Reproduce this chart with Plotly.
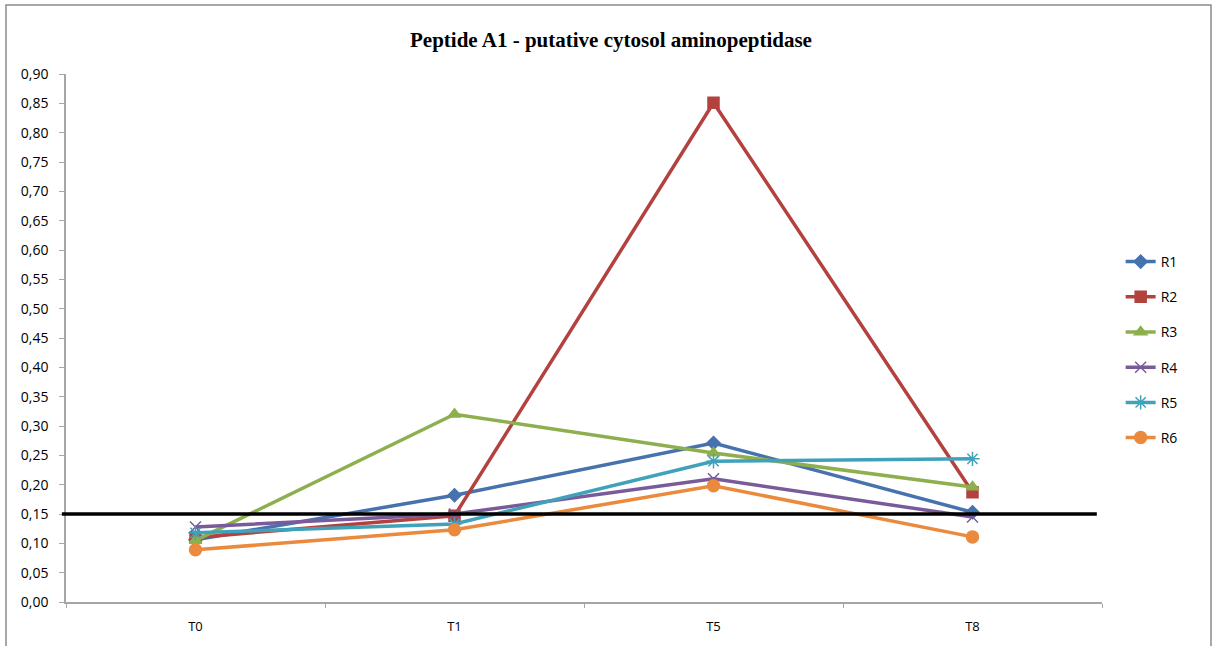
import plotly.graph_objects as go

categories = ["T0", "T1", "T5", "T8"]
R1 = [0.106, 0.182, 0.271, 0.153]
R2 = [0.110, 0.147, 0.851, 0.187]
R3 = [0.105, 0.320, 0.254, 0.196]
R4 = [0.128, 0.150, 0.210, 0.145]
R5 = [0.118, 0.133, 0.240, 0.244]
R6 = [0.089, 0.123, 0.198, 0.111]
threshold = 0.15
series_names = ["R1", "R2", "R3", "R4", "R5", "R6"]
series_values = [R1, R2, R3, R4, R5, R6]
colors = ["#4672AD", "#B3423F", "#8DAF4E", "#7A5B99", "#3FA2BA", "#EB8A3D"]
symbols = ["diamond", "square", "triangle-up", "x-thin", "asterisk", "circle"]
sizes = [10, 11, 11, 11, 12, 12]

fig = go.Figure()
for i, (n, v) in enumerate(zip(series_names, series_values)):
    fig.add_trace(go.Scatter(
        x=categories, y=v, name=n, mode="lines+markers",
        legendgroup=n,
        line=dict(color=colors[i], width=3.5),
        marker=dict(symbol=symbols[i], size=sizes[i], color=colors[i],
                    line=dict(color=colors[i], width=1.5)),
    ))

fig.add_shape(type="line", xref="paper", yref="y", x0=-0.004, x1=0.995,
              y0=threshold, y1=threshold, line=dict(color="black", width=3.5))
# outer chart border
fig.add_shape(type="rect", xref="paper", yref="paper",
              x0=(6 - 66) / 1036, x1=(1211 - 66) / 1036,
              y0=-0.2, y1=(602 - 5) / 528,
              line=dict(color="#8c8c8c", width=1.5), layer="below")

fig.update_layout(
    width=1213, height=646,
    margin=dict(l=66, r=111, t=74, b=44),
    paper_bgcolor="white", plot_bgcolor="white",
    separators=",.",
    title=dict(text="<b>Peptide A1 - putative cytosol aminopeptidase</b>",
               x=611 / 1213, xanchor="center", y=1 - 40 / 646, yanchor="middle",
               font=dict(family="Liberation Serif, Times New Roman, serif", size=21, color="black")),
    font=dict(family="Open Sans, sans-serif", size=13, color="black"),
    showlegend=True,
    legend=dict(x=1.018, y=(602 - 246) / 528, xanchor="left", yanchor="top",
                tracegroupgap=14, font=dict(size=14), bgcolor="rgba(0,0,0,0)"),
    xaxis=dict(type="category", range=[-0.5, 3.5], showgrid=False,
               showline=True, linecolor="#a6a6a6", linewidth=1.5,
               ticks="outside", tickson="boundaries", ticklen=4, tickcolor="#a6a6a6",
               ticklabelstandoff=12,
               tickfont=dict(size=13)),
    yaxis=dict(range=[0, 0.9], dtick=0.05, tickformat=".2f", showgrid=False,
               zeroline=False, showline=True, linecolor="#a6a6a6", linewidth=1.5,
               ticks="outside", ticklen=5, tickcolor="#a6a6a6",
               ticklabelstandoff=8,
               tickfont=dict(size=14)),
)

fig.write_html("out.html")
